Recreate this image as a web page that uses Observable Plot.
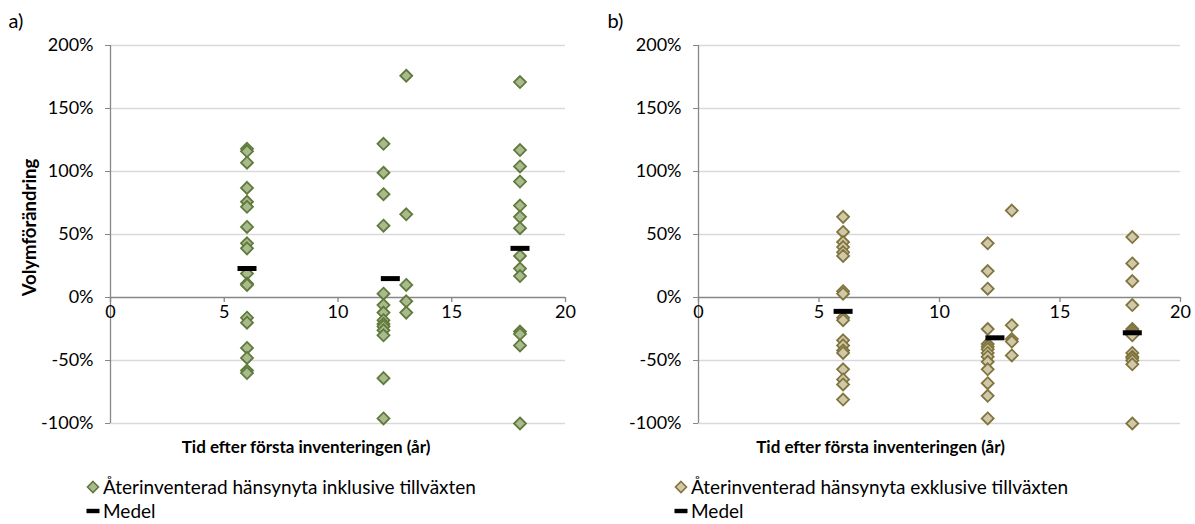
<!DOCTYPE html>
<html><head><meta charset="utf-8">
<script src="https://cdn.jsdelivr.net/npm/d3@7"></script>
<script src="https://cdn.jsdelivr.net/npm/@observablehq/plot@0.6"></script>
<style>
body{margin:0;background:#fff;font-family:Lato,sans-serif;}
#wrap{position:relative;width:1195px;height:524px;overflow:hidden;background:#fff}
.panel{position:absolute;top:0}
.leg{position:absolute;font-size:19px;color:#000;white-space:nowrap;line-height:24px}
.leg div{display:flex;align-items:center;height:24px}
.leg svg{margin-right:3px}
</style></head><body><div id="wrap"></div>
<script>
// ---- axis ticks ----
const xTicks = [0, 5, 10, 15, 20];
const yTicks = [-100, -50, 0, 50, 100, 150, 200];

// ---- panel a: Återinventerad hänsynyta inklusive tillväxten (volume change, %) ----
const aX6  = [118, 116, 107, 87, 76, 72, 56, 43, 39, 19, 11, 10, -16, -20, -40, -48, -58, -60];
const aX12 = [122, 99, 82, 57, 3, -6, -12, -18, -21, -23, -26, -30, -64, -96];
const aX13 = [176, 66, 10, -3, -12];
const aX18 = [171, 117, 104, 92, 73, 64, 55, 33, 23, 17, -27, -29, -38, -100];
const aMeanX = [6, 12.3, 18];
const aMeanY = [23, 15, 39];

// ---- panel b: Återinventerad hänsynyta exklusive tillväxten ----
const bX6  = [64, 52, 44, 40, 36, 33, 5, 3, -16, -18, -34, -38, -42, -44, -57, -65, -69, -81];
const bX12 = [43, 21, 7, -25, -37, -39, -41, -44, -47, -51, -57, -68, -78, -96];
const bX13 = [69, -22, -33, -35, -46];
const bX18 = [48, 27, 13, -6, -25, -26, -28, -30, -44, -47, -48, -50, -53, -100];
const bMeanX = [6, 12.3, 18];
const bMeanY = [-11, -32, -28];

const xTitle = "Tid efter första inventeringen (år)";
const yTitle = "Volymförändring";

const rows = (x, vals) => vals.map(v => ({x, y: v}));
const diamond = {draw(c){ c.moveTo(0,-6); c.lineTo(6,0); c.lineTo(0,6); c.lineTo(-6,0); c.closePath(); }};
const dash = {draw(c){ c.rect(-9.5,-2.5,19,5); }};

function panel({points, meanX, meanY, fill, stroke, marginLeft, marginRight, width, label, labelDx, titleDx, showY}) {
  const means = meanX.map((x,i)=>({x, y: meanY[i]}));
  return Plot.plot({
    width, height: 470,
    marginLeft, marginRight, marginTop: 45, marginBottom: 47,
    style: {fontFamily: "Lato, sans-serif", background: "transparent", overflow: "visible"},
    x: {domain: [0, 20], axis: null},
    y: {domain: [-100, 200], axis: null},
    marks: [
      Plot.ruleY(yTicks.filter(d => d !== 0), {stroke: "#d9d9d9", strokeWidth: 1.3}),
      Plot.ruleX([0], {stroke: "#878787", strokeWidth: 1.3}),
      Plot.axisY({ticks: yTicks, tickFormat: d => d + "%", tickSize: 5, tickPadding: 12, fontSize: 18, stroke: "#878787", fill: "#000", label: null}),
      Plot.ruleY([0], {x1: 0, x2: 20, stroke: "#878787", strokeWidth: 1.3}),
      Plot.ruleX(xTicks, {x: d => d, y1: 0, y2: 0, insetBottom: -5, stroke: "#878787", strokeWidth: 1.3}),
      Plot.text(xTicks, {x: d => d, y: 0, dy: 15, text: d => String(d), fontSize: 18, fill: "#000"}),
      Plot.dot(points, {x: "x", y: "y", symbol: diamond, r: 5, fill, stroke, strokeWidth: 1.8}),
      Plot.dot(means, {x: "x", y: "y", symbol: dash, r: 5, fill: "#000", stroke: "none"}),
      Plot.text([xTitle], {frameAnchor: "bottom", textAnchor: "middle", lineAnchor: "middle", dy: 24, dx: titleDx, fontSize: 17, fontWeight: "bold", fill: "#000"}),
      showY ? Plot.text([yTitle], {frameAnchor: "left", textAnchor: "middle", lineAnchor: "middle", dx: -80, dy: -7, rotate: -90, fontSize: 18.5, fontWeight: "bold", fill: "#000"}) : null,
      Plot.text([label], {frameAnchor: "top-left", lineAnchor: "middle", dx: labelDx, dy: -24, textAnchor: "start", fontSize: 20, fill: "#000"})
    ]
  });
}

const wrap = document.getElementById("wrap");

const pa = panel({
  points: [...rows(6, aX6), ...rows(12, aX12), ...rows(13, aX13), ...rows(18, aX18)],
  meanX: aMeanX, meanY: aMeanY, fill: "#a9ba8f", stroke: "#5f7a3b",
  marginLeft: 110, marginRight: 32, width: 597, label: "a)", labelDx: -102, titleDx: -32, showY: true
});
pa.classList.add("panel"); pa.style.left = "0px";
wrap.appendChild(pa);

const pb = panel({
  points: [...rows(6, bX6), ...rows(12, bX12), ...rows(13, bX13), ...rows(18, bX18)],
  meanX: bMeanX, meanY: bMeanY, fill: "#d0c8a8", stroke: "#80743e",
  marginLeft: 101, marginRight: 15, width: 598, label: "b)", labelDx: -91, titleDx: -59, showY: false
});
pb.classList.add("panel"); pb.style.left = "597px";
wrap.appendChild(pb);

function legend(left, name, fill, stroke) {
  const d = document.createElement("div");
  d.className = "leg";
  d.style.left = left + "px";
  d.style.top = "475px";
  d.innerHTML =
    `<div><svg width="14" height="14" viewBox="-7 -7 14 14"><path d="M0,-5.5L5.5,0L0,5.5L-5.5,0Z" fill="${fill}" stroke="${stroke}" stroke-width="1.6"/></svg><span>${name}</span></div>` +
    `<div><svg width="14" height="14" viewBox="-7 -7 14 14"><rect x="-6.5" y="-2.2" width="13" height="4.4" fill="#000"/></svg><span>Medel</span></div>`;
  wrap.appendChild(d);
}
legend(86, "Återinventerad hänsynyta inklusive tillväxten", "#a9ba8f", "#5f7a3b");
legend(674, "Återinventerad hänsynyta exklusive tillväxten", "#d0c8a8", "#80743e");
</script></body></html>
